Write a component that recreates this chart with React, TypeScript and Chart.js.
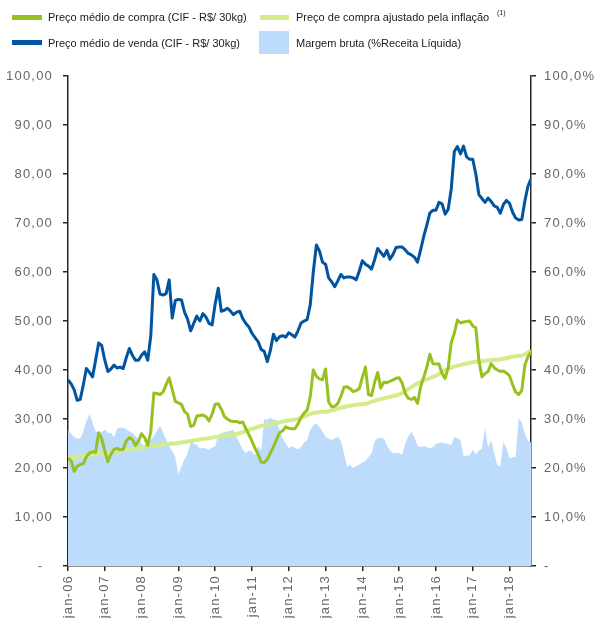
import { useEffect, useRef } from 'react';
import { Chart, registerables } from 'chart.js';

Chart.register(...registerables);

// x-axis tick labels (one per January, every 12 months starting jan-06)
const xTickLabels = ['jan-06', 'jan-07', 'jan-08', 'jan-09', 'jan-10', 'jan-11', 'jan-12', 'jan-13', 'jan-14', 'jan-15', 'jan-16', 'jan-17', 'jan-18'];

// Monthly values, jan-06 .. aug-18
const sellPrice = [
  38.0, 37.2, 36.0, 33.8, 34.0, 37.0, 40.3, 39.5, 38.6, 42.0, 45.5, 45.0,
  42.0, 39.7, 40.2, 41.0, 40.4, 40.6, 40.3, 42.5, 44.4, 43.0, 42.0, 42.0,
  43.0, 43.7, 42.0, 47.0, 59.5, 58.4, 55.5, 55.3, 55.6, 58.4, 50.6, 54.2,
  54.4, 54.3, 51.8, 50.4, 48.0, 49.5, 51.0, 50.0, 51.5, 50.8, 49.5, 49.2,
  53.5, 56.7, 52.0, 52.2, 52.6, 52.0, 51.3, 51.8, 52.0, 50.5, 49.5, 48.8,
  47.5, 46.6, 45.8, 44.2, 43.8, 41.7, 44.0, 47.3, 46.0, 46.8, 47.0, 46.7,
  47.6, 47.2, 46.7, 48.0, 49.6, 50.0, 50.3, 53.3, 60.0, 65.5, 64.3, 62.0,
  61.6, 58.8, 58.0, 57.0, 58.2, 59.5, 58.8, 59.0, 59.0, 58.8, 58.4, 60.2,
  62.3, 61.6, 61.2, 60.6, 62.5, 64.8, 64.0, 63.2, 64.4, 62.6, 63.6, 65.0,
  65.1, 65.1, 64.5, 63.8, 63.5, 63.0, 62.0, 64.5, 67.2, 69.5, 72.0, 72.6,
  72.6, 74.2, 73.9, 71.8, 72.8, 77.0, 84.6, 85.6, 84.1, 85.7, 83.5, 83.0,
  83.0, 80.0, 75.8, 75.0, 74.2, 75.1, 74.4, 73.5, 73.2, 72.0, 73.8, 74.6,
  74.0, 72.2, 71.0, 70.6, 70.7, 74.5, 77.5, 79.0,
];

const buyPrice = [
  22.0, 21.5, 19.3, 20.4, 20.7, 20.9, 22.3, 23.1, 23.3, 23.2, 27.2, 26.0,
  23.5, 21.3, 22.8, 23.8, 24.0, 23.7, 23.8, 25.5, 26.2, 25.8, 24.6, 25.5,
  27.0, 26.2, 24.6, 27.5, 35.3, 35.2, 35.0, 35.5, 37.0, 38.4, 36.0, 33.6,
  33.3, 33.0, 31.5, 31.0, 28.5, 28.7, 30.6, 30.7, 30.8, 30.5, 29.6, 31.0,
  33.0, 33.1, 32.0, 30.5, 30.0, 29.6, 29.5, 29.5, 29.2, 29.4, 28.0, 26.8,
  25.5, 24.0, 22.8, 21.2, 21.1, 21.8, 23.0, 24.3, 25.8, 27.2, 27.6, 28.4,
  28.1, 28.0, 28.0, 29.0, 30.3, 31.2, 31.8, 34.5, 40.0, 38.7, 38.2, 38.0,
  40.2, 33.5, 32.5, 32.6, 33.2, 34.6, 36.5, 36.6, 36.2, 35.6, 35.8, 36.2,
  38.5, 40.6, 35.0, 34.8, 37.5, 39.5, 36.3, 37.5, 37.4, 37.7, 38.0, 38.3,
  38.4, 37.3, 35.2, 34.2, 34.0, 34.4, 33.2, 36.6, 38.5, 40.5, 43.2, 41.3,
  41.2, 41.2, 39.3, 38.3, 40.5, 45.6, 47.5, 50.2, 49.6, 49.8, 49.9, 50.0,
  49.0, 48.6, 42.0, 38.6, 39.3, 39.7, 41.3, 40.5, 40.0, 39.7, 39.8, 39.4,
  38.8, 37.0, 35.5, 35.0, 35.8, 41.0, 42.7, 43.7,
];

const inflationAdjusted = [
  22.1, 22.2, 22.2, 22.3, 22.4, 22.5, 22.5, 22.6, 22.7, 22.8, 22.9, 23.0,
  23.0, 23.1, 23.2, 23.3, 23.4, 23.5, 23.6, 23.7, 23.8, 23.9, 24.0, 24.1,
  24.2, 24.3, 24.4, 24.5, 24.6, 24.7, 24.7, 24.8, 24.9, 24.9, 25.0, 25.0,
  25.1, 25.2, 25.3, 25.4, 25.5, 25.6, 25.7, 25.8, 25.9, 26.0, 26.1, 26.2,
  26.3, 26.4, 26.5, 26.6, 26.7, 26.8, 26.9, 27.0, 27.1, 27.3, 27.5, 27.8,
  28.0, 28.2, 28.4, 28.6, 28.7, 28.8, 28.9, 29.0, 29.2, 29.3, 29.5, 29.6,
  29.7, 29.8, 29.9, 30.0, 30.3, 30.5, 30.8, 31.0, 31.2, 31.3, 31.4, 31.5,
  31.5, 31.6, 31.8, 31.9, 32.1, 32.3, 32.4, 32.6, 32.7, 32.8, 32.9, 33.0,
  33.0, 33.1, 33.3, 33.5, 33.7, 33.9, 34.1, 34.2, 34.4, 34.5, 34.7, 34.8,
  35.0, 35.3, 35.7, 36.1, 36.5, 36.9, 37.3, 37.6, 37.9, 38.1, 38.3, 38.6,
  38.8, 39.2, 39.6, 40.0, 40.3, 40.5, 40.7, 40.9, 41.0, 41.2, 41.3, 41.5,
  41.6, 41.7, 41.8, 41.8, 41.9, 42.0, 42.0, 42.1, 42.1, 42.2, 42.3, 42.4,
  42.6, 42.7, 42.8, 42.9, 42.9, 43.2, 43.6, 43.9,
];

// Gross margin, % of net revenue (right axis)
const grossMargin = [
  27.8, 27.0, 26.3, 26.0, 26.0, 27.5, 29.5, 31.0, 29.3, 27.5, 27.2, 27.3,
  27.9, 27.1, 27.2, 26.3, 28.0, 28.2, 28.2, 27.9, 27.5, 27.1, 26.5, 25.8,
  25.0, 24.4, 24.8, 25.8, 26.5, 27.6, 28.6, 27.3, 25.8, 24.5, 23.5, 22.2,
  18.7, 20.3, 21.8, 23.0, 25.2, 25.0, 24.7, 24.0, 24.1, 24.0, 23.7, 24.2,
  24.5, 26.8, 27.1, 27.3, 27.5, 27.6, 27.8, 26.3, 25.0, 23.8, 23.0, 23.6,
  23.3, 22.7, 24.5, 23.5, 30.0, 29.8, 30.3, 29.8, 29.9, 27.8, 26.0, 25.0,
  24.0, 24.5, 24.2, 23.8, 24.3, 25.2, 25.7, 27.8, 28.7, 29.1, 28.4, 27.5,
  26.4, 26.0, 25.7, 26.0, 26.5, 25.5, 23.0, 20.3, 20.6, 20.0, 20.4, 20.7,
  21.1, 21.5, 22.2, 23.0, 25.4, 26.1, 26.1, 26.0, 24.6, 23.6, 23.0, 23.1,
  23.0, 22.7, 25.0, 26.5, 27.4, 26.2, 24.5, 24.3, 24.4, 24.3, 24.0, 24.3,
  24.9, 25.1, 25.2, 25.0, 24.9, 24.7, 26.4, 26.0, 25.7, 22.4, 22.5, 22.6,
  23.7, 22.8, 23.5, 24.0, 28.3, 24.2, 25.7, 23.0, 20.6, 20.3, 25.4, 24.0,
  22.0, 22.2, 22.3, 30.2, 29.3, 27.0, 25.5, 25.2,
];

const legendLabels = {
  buy: 'Preço médio de compra (CIF - R$/ 30kg)',
  sell: 'Preço médio de venda (CIF - R$/ 30kg)',
  adjusted: 'Preço de compra ajustado pela inflação',
  margin: 'Margem bruta (%Receita Líquida)',
};

const BLUE = '#0054a0';
const GREEN = '#96c11f';
const LIGHT_GREEN = '#d4ec8c';
const AREA = '#bddcfc';
const AXIS = '#262626';
const TICK_TEXT = '#666666';
const FONT = "'Liberation Sans', Arial, sans-serif";

export default function App() {
  const ref = useRef<HTMLCanvasElement>(null);

  useEffect(() => {
    const toPts = (arr: number[]) => arr.map((y, i) => ({ x: i, y }));
    const spacing = {
      id: 'spacing',
      beforeUpdate(c: any) { c.ctx.letterSpacing = '1.2px'; },
      beforeDraw(c: any) { c.ctx.letterSpacing = '1.2px'; },
    };
    const axisGrid = { drawOnChartArea: false, drawTicks: true, tickLength: 5, color: AXIS, lineWidth: 1.5 };
    const axisBorder = { display: true, color: AXIS, width: 1.5 };
    const tickFont = { family: FONT, size: 13 };
    const fmt = (v: number, d: number) => v.toFixed(d).replace('.', ',');

    const chart = new Chart(ref.current!, {
      type: 'line',
      data: {
        datasets: [
          { label: legendLabels.sell, data: toPts(sellPrice), borderColor: BLUE, borderWidth: 3, pointRadius: 0, yAxisID: 'y', order: 0, borderJoinStyle: 'round' },
          { label: legendLabels.buy, data: toPts(buyPrice), borderColor: GREEN, borderWidth: 3, pointRadius: 0, yAxisID: 'y', order: 1, borderJoinStyle: 'round' },
          { label: legendLabels.adjusted, data: toPts(inflationAdjusted), borderColor: LIGHT_GREEN, borderWidth: 4, pointRadius: 0, yAxisID: 'y', order: 2, borderJoinStyle: 'round' },
          { label: legendLabels.margin, data: toPts(grossMargin), borderColor: 'rgba(0,0,0,0)', borderWidth: 0, backgroundColor: AREA, fill: 'origin', pointRadius: 0, yAxisID: 'y2', order: 3 },
        ] as any,
      },
      options: {
        responsive: false,
        animation: false,
        layout: { padding: { top: 76, left: 0, right: 0, bottom: 0 } },
        plugins: { legend: { display: false }, tooltip: { enabled: false } },
        scales: {
          x: {
            type: 'linear',
            min: 0,
            max: 151,
            afterFit: (s: any) => { s.height = 52; },
            grid: axisGrid,
            border: axisBorder,
            ticks: {
              stepSize: 12,
              includeBounds: false,
              autoSkip: false,
              maxRotation: 90,
              minRotation: 90,
              padding: 4,
              color: TICK_TEXT,
              font: tickFont,
              callback: (v: any) => xTickLabels[Math.round(Number(v) / 12)] ?? '',
            },
          },
          y: {
            type: 'linear',
            position: 'left',
            min: 0,
            max: 100,
            afterFit: (s: any) => { s.width = 68; },
            grid: axisGrid,
            border: axisBorder,
            ticks: {
              stepSize: 10,
              padding: 10,
              color: TICK_TEXT,
              font: tickFont,
              callback: (v: any) => (Number(v) === 0 ? '-  ' : fmt(Number(v), 2)),
            },
          },
          y2: {
            type: 'linear',
            position: 'right',
            min: 0,
            max: 100,
            afterFit: (s: any) => { s.width = 64; },
            grid: axisGrid,
            border: axisBorder,
            ticks: {
              stepSize: 10,
              padding: 8,
              color: TICK_TEXT,
              font: tickFont,
              callback: (v: any) => (Number(v) === 0 ? '-' : fmt(Number(v), 1) + '%'),
            },
          },
        },
      } as any,
      plugins: [spacing],
    });
    return () => chart.destroy();
  }, []);

  const text: any = { position: 'absolute', fontFamily: FONT, fontSize: 11, color: '#1a1a1a', lineHeight: '12px', whiteSpace: 'nowrap' };
  const sw = (left: number, top: number, w: number, h: number, bg: string): any => ({ position: 'absolute', left, top, width: w, height: h, background: bg });

  return (
    <div style={{ position: 'absolute', left: 0, top: 0, width: 595, height: 618, background: '#fff' }}>
      <canvas ref={ref} width={595} height={618} style={{ position: 'absolute', left: 0, top: 0 }} />
      <div style={sw(12, 15, 30, 5, GREEN)} />
      <div style={{ ...text, left: 48, top: 11 }}>{legendLabels.buy}</div>
      <div style={sw(12, 40, 30, 5, BLUE)} />
      <div style={{ ...text, left: 48, top: 37 }}>{legendLabels.sell}</div>
      <div style={sw(260, 15, 29, 5, LIGHT_GREEN)} />
      <div style={{ ...text, left: 296, top: 11 }}>{legendLabels.adjusted}</div>
      <div style={{ ...text, left: 497, top: 7, fontSize: 7 }}>(1)</div>
      <div style={sw(259, 31, 30, 23, AREA)} />
      <div style={{ ...text, left: 296, top: 37 }}>{legendLabels.margin}</div>
    </div>
  );
}
